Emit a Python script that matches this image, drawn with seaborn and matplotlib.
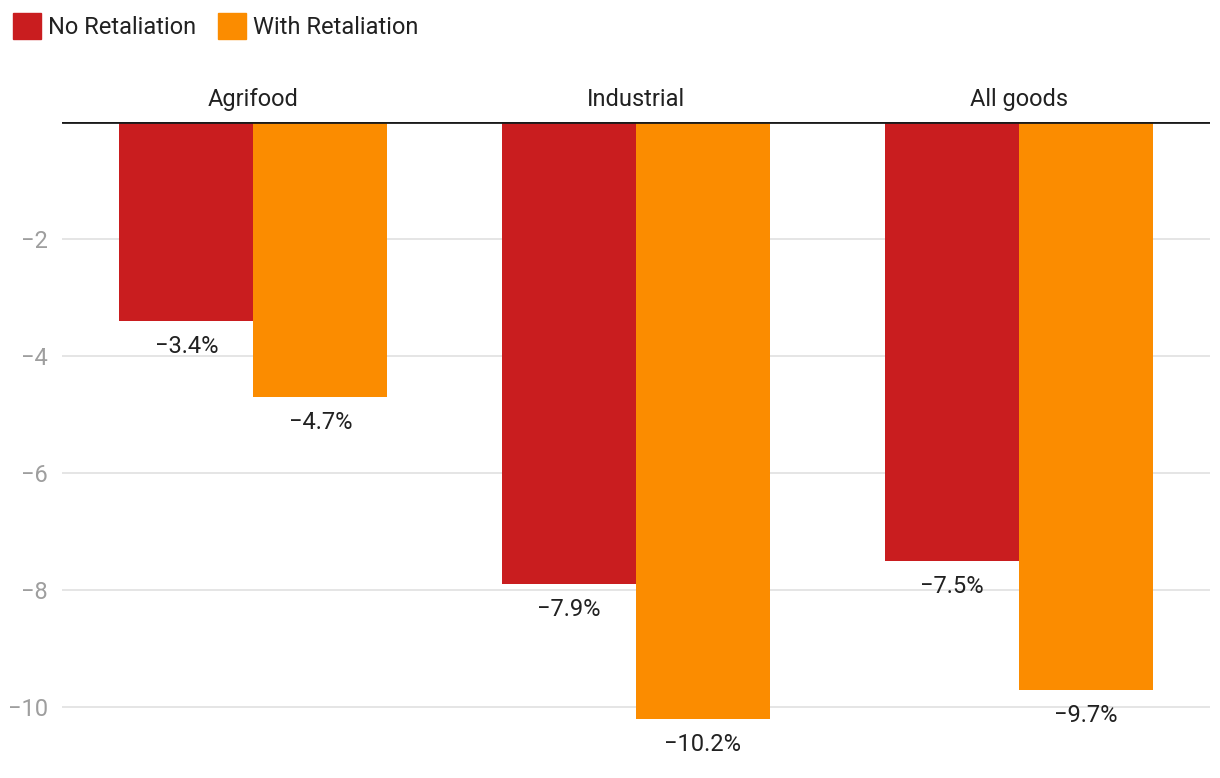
import pandas as pd
import matplotlib.pyplot as plt
import seaborn as sns
from matplotlib.patches import Patch

categories = ["Agrifood", "Industrial", "All goods"]
series = ["No Retaliation", "With Retaliation"]
no_retaliation = [-3.4, -7.9, -7.5]
with_retaliation = [-4.7, -10.2, -9.7]
colors = ["#C91D1F", "#FB8C00"]

df = pd.DataFrame({
    "Category": categories * 2,
    "Scenario": [series[0]] * 3 + [series[1]] * 3,
    "Change": no_retaliation + with_retaliation,
})

sns.set_style("white")
plt.rcParams["font.family"] = ["Roboto", "DejaVu Sans"]

fig = plt.figure(figsize=(12.2, 7.78), dpi=100)
ax = fig.add_axes([62 / 1220, 1 - 760 / 778, 1148 / 1220, (760 - 122) / 778])

sns.barplot(data=df, x="Category", y="Change", hue="Scenario", order=categories,
            hue_order=series, palette=colors, width=0.7, saturation=1,
            legend=False, linewidth=0, ax=ax, zorder=3)

for cont in ax.containers:
    ax.bar_label(cont, labels=[f"{v:.1f}%".replace("-", "\u2212") for v in cont.datavalues],
                 padding=10, fontsize=17, color="#212121")

ax.set_xlim(-0.5, 2.5)
ax.set_ylim(-10.9, 0)
ax.set_yticks([-2, -4, -6, -8, -10])
ax.yaxis.grid(True, color="#e3e3e3", linewidth=1.3, zorder=0)
ax.axhline(0, color="#1a1a1a", linewidth=2, zorder=4)

ax.xaxis.tick_top()
ax.tick_params(axis="x", length=0, pad=8, labelsize=17, labelcolor="#212121")
ax.tick_params(axis="y", length=0, pad=10, labelsize=17, labelcolor="#9e9e9e")
ax.set_xlabel("")
ax.set_ylabel("")
for s in ax.spines.values():
    s.set_visible(False)

handles = [Patch(color=c, label=l) for c, l in zip(colors, series)]
fig.legend(handles=handles, loc="upper left", bbox_to_anchor=(0.0, 1.0), ncol=2,
           frameon=False, fontsize=17, handlelength=1.2, handleheight=1.3,
           handletextpad=0.3, columnspacing=0.9, borderpad=0.25, borderaxespad=0.3,
           labelcolor="#212121")

fig.savefig("out.png", dpi=100)
